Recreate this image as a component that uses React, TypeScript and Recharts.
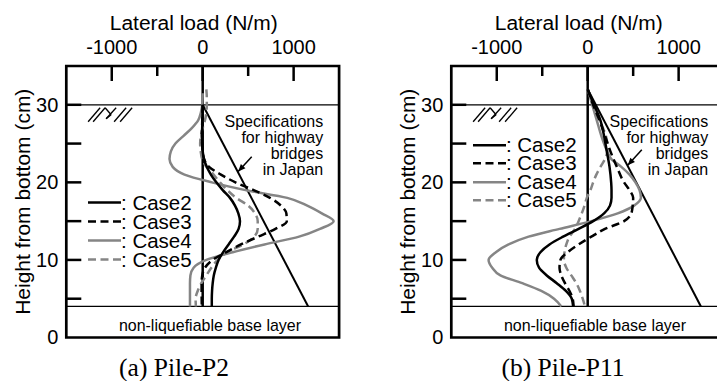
import React from 'react';
import {
  ComposedChart,
  Line,
  XAxis,
  YAxis,
  ReferenceLine,
  ReferenceArea,
  ReferenceDot,
  Legend,
} from 'recharts';

const SANS = '"Liberation Sans", Arial, Helvetica, sans-serif';
const SERIF = '"Liberation Serif", "Times New Roman", serif';

// ---------- axes / labels ----------
const xTicks = [-1000, -500, 0, 500, 1000];
const xLabeled = [-1000, 0, 1000];
const yTicks = [0, 5, 10, 15, 20, 25, 30];
const yRightTicks = [5, 10, 15, 20, 25, 30];
const yLabeled = [0, 10, 20, 30];
const xTitle = 'Lateral load (N/m)';
const yTitle = 'Height from bottom (cm)';
const specText = ['Specifications', 'for highway', 'bridges', 'in Japan'];
const baseText = 'non-liquefiable base layer';
const panelTitles = ['(a) Pile-P2', '(b) Pile-P11'];

// ---------- series ----------
const caseNames = ['Case2', 'Case3', 'Case4', 'Case5'];
const caseColors = ['#000000', '#000000', '#858585', '#858585'];
const caseDashes = ['', '8 4.5', '', '8 4.5'];

// Pile-P2 (h = height cm, v = lateral load N/m)
const p2Case2 = [
  { h: 30, v: 0 }, { h: 28, v: -3 }, { h: 26, v: -8 }, { h: 24, v: 0 }, { h: 23, v: 15 },
  { h: 22, v: 45 }, { h: 21, v: 90 }, { h: 20, v: 150 }, { h: 19, v: 220 }, { h: 18, v: 300 },
  { h: 17, v: 355 }, { h: 16, v: 392 }, { h: 15, v: 410 }, { h: 14, v: 395 }, { h: 13, v: 345 },
  { h: 12, v: 285 }, { h: 11, v: 225 }, { h: 10, v: 175 }, { h: 9, v: 145 }, { h: 8, v: 122 },
  { h: 7, v: 110 }, { h: 6, v: 103 }, { h: 5, v: 100 }, { h: 4, v: 100 },
];
const p2Case3 = [
  { h: 30, v: 0 }, { h: 28, v: -5 }, { h: 26, v: -8 }, { h: 24, v: 0 }, { h: 23, v: 15 },
  { h: 22, v: 70 }, { h: 21, v: 200 }, { h: 20, v: 360 }, { h: 19, v: 560 }, { h: 18, v: 740 },
  { h: 17, v: 860 }, { h: 16, v: 920 }, { h: 15, v: 925 }, { h: 14, v: 800 }, { h: 13, v: 610 },
  { h: 12, v: 420 }, { h: 11, v: 260 }, { h: 10, v: 110 }, { h: 9, v: 25 }, { h: 8, v: -5 },
  { h: 7, v: -12 }, { h: 6, v: -12 }, { h: 4, v: -10 },
];
const p2Case4 = [
  { h: 31.5, v: 0 }, { h: 30, v: -5 }, { h: 29, v: -20 }, { h: 28, v: -50 }, { h: 27, v: -120 },
  { h: 26, v: -210 }, { h: 25, v: -300 }, { h: 24, v: -350 }, { h: 23, v: -365 }, { h: 22, v: -330 },
  { h: 21, v: -200 }, { h: 20, v: 100 }, { h: 19, v: 470 }, { h: 18, v: 930 }, { h: 17, v: 1150 },
  { h: 16, v: 1310 }, { h: 15, v: 1440 }, { h: 14, v: 1290 }, { h: 13, v: 1060 }, { h: 12, v: 680 },
  { h: 11, v: 330 }, { h: 10, v: 40 }, { h: 9, v: -100 }, { h: 8, v: -135 }, { h: 7, v: -140 },
  { h: 6, v: -140 }, { h: 4, v: -140 },
];
const p2Case5 = [
  { h: 32, v: 40 }, { h: 31, v: 45 }, { h: 30, v: 45 }, { h: 28, v: 25 }, { h: 27, v: 0 },
  { h: 26, v: -20 }, { h: 25, v: -28 }, { h: 24, v: -22 }, { h: 23, v: -5 }, { h: 22, v: 40 },
  { h: 21, v: 120 }, { h: 20, v: 190 }, { h: 19, v: 270 }, { h: 18, v: 370 }, { h: 17, v: 500 },
  { h: 16, v: 575 }, { h: 15, v: 605 }, { h: 14, v: 605 }, { h: 13, v: 565 }, { h: 12, v: 450 },
  { h: 11, v: 270 }, { h: 10, v: 165 }, { h: 9, v: 95 }, { h: 8, v: 40 }, { h: 7, v: -15 },
  { h: 6, v: -55 }, { h: 5, v: -78 }, { h: 4, v: -75 },
];
const p2Spec = [{ h: 30, v: 0 }, { h: 4, v: 1160 }];

// Pile-P11
const p11Case2 = [
  { h: 32, v: 0 }, { h: 30, v: 70 }, { h: 28, v: 140 }, { h: 26, v: 180 }, { h: 24, v: 210 },
  { h: 22, v: 240 }, { h: 20, v: 258 }, { h: 19, v: 262 }, { h: 18, v: 262 }, { h: 17, v: 245 },
  { h: 16, v: 180 }, { h: 15, v: 60 }, { h: 14, v: -100 }, { h: 13, v: -270 }, { h: 12, v: -420 },
  { h: 11, v: -520 }, { h: 10, v: -560 }, { h: 9, v: -535 }, { h: 8, v: -450 }, { h: 7, v: -340 },
  { h: 6, v: -240 }, { h: 5, v: -175 }, { h: 4, v: -160 },
];
const p11Case3 = [
  { h: 32, v: 0 }, { h: 30, v: 60 }, { h: 28, v: 130 }, { h: 26, v: 190 }, { h: 24, v: 250 },
  { h: 22, v: 320 }, { h: 20, v: 400 }, { h: 19, v: 460 }, { h: 18, v: 500 }, { h: 17, v: 495 },
  { h: 16, v: 480 }, { h: 15, v: 400 }, { h: 14, v: 190 }, { h: 13, v: 40 }, { h: 12, v: -100 },
  { h: 11, v: -220 }, { h: 10, v: -300 }, { h: 9, v: -310 }, { h: 8, v: -290 }, { h: 7, v: -250 },
  { h: 6, v: -200 }, { h: 5, v: -165 }, { h: 4, v: -155 },
];
const p11Case4 = [
  { h: 32, v: 0 }, { h: 30, v: 50 }, { h: 28, v: 100 }, { h: 26, v: 150 }, { h: 24, v: 215 },
  { h: 23, v: 260 }, { h: 22, v: 370 }, { h: 21, v: 460 }, { h: 20, v: 525 }, { h: 19, v: 570 },
  { h: 18, v: 585 }, { h: 17, v: 510 }, { h: 16, v: 330 }, { h: 15, v: 40 }, { h: 14, v: -310 },
  { h: 13, v: -650 }, { h: 12, v: -870 }, { h: 11, v: -1010 }, { h: 10, v: -1090 }, { h: 9, v: -1050 },
  { h: 8, v: -960 }, { h: 7, v: -720 }, { h: 6, v: -510 }, { h: 5, v: -370 }, { h: 4, v: -290 },
];
const p11Case5 = [
  { h: 32, v: 0 }, { h: 30, v: 60 }, { h: 28, v: 130 }, { h: 26, v: 200 }, { h: 25, v: 215 },
  { h: 24, v: 215 }, { h: 23, v: 190 }, { h: 22, v: 140 }, { h: 21, v: 95 }, { h: 20, v: 60 },
  { h: 19, v: 30 }, { h: 18, v: -10 }, { h: 17, v: -35 }, { h: 16, v: -65 }, { h: 15, v: -100 },
  { h: 14, v: -140 }, { h: 13, v: -200 }, { h: 12, v: -235 }, { h: 11, v: -255 }, { h: 10, v: -262 },
  { h: 9, v: -235 }, { h: 8, v: -180 }, { h: 7, v: -125 }, { h: 6, v: -85 }, { h: 5, v: -55 },
  { h: 4, v: -30 },
];
const p11Spec = [{ h: 32, v: 0 }, { h: 4, v: 1245 }];

// ---------- annotation anchors (data coords) ----------
const p2Arrow = [539, 23.3, 390, 21.4];
const p11Arrow = [595, 24.2, 440, 22.2];

// ---------- custom pieces ----------
const TopTick = (p: any) => {
  const { x, y, payload } = p;
  const v = payload.value;
  const len = Math.abs(v) === 500 ? 10 : 15;
  return (
    <g>
      <line x1={x} y1={y} x2={x} y2={y + len} stroke="#000" strokeWidth={2.5} />
      {xLabeled.includes(v) && (
        <text x={x} y={y - 12} textAnchor="middle" fontFamily={SANS} fontSize={20} fill="#000">
          {String(v)}
        </text>
      )}
    </g>
  );
};

const LeftTick = (p: any) => {
  const { x, y, payload } = p;
  const v = payload.value;
  return (
    <g>
      {v > 0 && <line x1={x} y1={y} x2={x + 15} y2={y} stroke="#000" strokeWidth={2.5} />}
      {yLabeled.includes(v) && (
        <text x={x - 8} y={y + 7} textAnchor="end" fontFamily={SANS} fontSize={20} fill="#000">
          {String(v)}
        </text>
      )}
    </g>
  );
};

const RightTick = (p: any) => {
  const { x, y } = p;
  return <line x1={x} y1={y} x2={x - 15} y2={y} stroke="#000" strokeWidth={2.5} />;
};

const XTitle = (p: any) => {
  const vb = p.viewBox || { x: 0, width: 0 };
  return (
    <text x={vb.x + vb.width / 2 - 9} y={30} textAnchor="middle" fontFamily={SANS} fontSize={21} fill="#000">
      {xTitle}
    </text>
  );
};

const YTitle = (p: any) => {
  const vb = p.viewBox || { x: 0, y: 0, height: 0 };
  const cx = vb.x + 23;
  const cy = vb.y + vb.height / 2;
  return (
    <text
      x={cx}
      y={cy}
      transform={`rotate(-90 ${cx} ${cy})`}
      textAnchor="middle"
      dominantBaseline="central"
      fontFamily={SANS}
      fontSize={21}
      fill="#000"
    >
      {yTitle}
    </text>
  );
};

const Hatch = (p: any) => {
  const { cx, cy } = p;
  const b = cy + 17;
  const t = cy + 3;
  const seg = (a: number, c: number, d: number, e: number, k: number) => (
    <line key={k} x1={cx + a} y1={c} x2={cx + d} y2={e} stroke="#000" strokeWidth={1.3} />
  );
  return (
    <g>
      {seg(0, b, 12, t, 1)}
      {seg(5, b, 17, t, 2)}
      {seg(17, t, 23, cy + 10, 3)}
      {seg(18, cy + 14, 28, t, 4)}
      {seg(18, cy + 14, 23, cy + 10, 5)}
      {seg(26, b, 38, t, 6)}
      {seg(32, b, 44, t, 7)}
    </g>
  );
};

const SpecLabel = (p: any) => {
  const { cx, cy } = p;
  return (
    <g>
      {specText.map((s, i) => (
        <text key={s} x={cx} y={cy + 5.5 + i * 16} textAnchor="end" fontFamily={SANS} fontSize={16} fill="#000">
          {s}
        </text>
      ))}
    </g>
  );
};

const BaseLabel = (p: any) => {
  const { cx, cy } = p;
  return (
    <text x={cx} y={cy + 5.5} textAnchor="middle" fontFamily={SANS} fontSize={16} fill="#000">
      {baseText}
    </text>
  );
};

const Arrow = (p: any) => {
  const { x1, y1, x2, y2 } = p;
  if ([x1, y1, x2, y2].some((n) => typeof n !== 'number' || isNaN(n))) return null;
  const ang = Math.atan2(y2 - y1, x2 - x1);
  const L = 8;
  const a = 0.4;
  const ax = x2 - L * Math.cos(ang - a);
  const ay = y2 - L * Math.sin(ang - a);
  const bx = x2 - L * Math.cos(ang + a);
  const by = y2 - L * Math.sin(ang + a);
  return (
    <g>
      <line x1={x1} y1={y1} x2={x2} y2={y2} stroke="#000" strokeWidth={1.5} />
      <polygon points={`${x2},${y2} ${ax},${ay} ${bx},${by}`} fill="#000" />
    </g>
  );
};

const makeLegend = (rowH: number) => () => (
  <div style={{ fontFamily: SANS, fontSize: 20.5, color: '#000' }}>
    {caseNames.map((n, i) => (
      <div key={n} style={{ display: 'flex', alignItems: 'center', height: rowH, lineHeight: `${rowH}px` }}>
        <svg width={33} height={rowH} style={{ display: 'block' }}>
          <line
            x1={0}
            x2={33}
            y1={rowH / 2}
            y2={rowH / 2}
            stroke={caseColors[i]}
            strokeWidth={2.6}
            strokeDasharray={caseDashes[i] || undefined}
          />
        </svg>
        <span style={{ whiteSpace: 'pre' }}>{': ' + n}</span>
      </div>
    ))}
  </div>
);

type PanelProps = {
  series: { h: number; v: number }[][];
  spec: { h: number; v: number }[];
  arrow: number[];
  legendTop: number;
  rowH: number;
};

const drawOrder = [2, 3, 1, 0];

function Panel({ series, spec, arrow, legendTop, rowH }: PanelProps) {
  return (
    <ComposedChart
      width={350.1}
      height={381}
      layout="vertical"
      margin={{ top: 0, right: 10, bottom: 43.5, left: 0 }}
    >
      <XAxis
        type="number"
        orientation="top"
        domain={[-1500, 1500]}
        ticks={xTicks}
        interval={0}
        tick={TopTick}
        tickLine={false}
        axisLine={false}
        tickSize={0}
        tickMargin={0}
        height={66}
        allowDataOverflow
        label={XTitle}
      />
      <YAxis
        type="number"
        dataKey="h"
        domain={[0, 35]}
        ticks={yTicks}
        interval={0}
        reversed
        tick={LeftTick}
        tickLine={false}
        axisLine={false}
        tickSize={0}
        tickMargin={0}
        width={66.3}
        allowDataOverflow
        label={YTitle}
      />
      <YAxis
        yAxisId="r"
        type="number"
        orientation="right"
        domain={[0, 35]}
        ticks={yRightTicks}
        interval={0}
        reversed
        tick={RightTick}
        tickLine={false}
        axisLine={false}
        tickSize={0}
        tickMargin={0}
        width={1}
        allowDataOverflow
      />
      <ReferenceLine y={30} stroke="#000" strokeWidth={1.3} />
      <ReferenceLine y={4} stroke="#000" strokeWidth={1.3} />
      <ReferenceLine
        segment={[
          { x: 0, y: 4 },
          { x: 0, y: 35 },
        ]}
        stroke="#000"
        strokeWidth={2.5}
      />
      <ReferenceDot x={-1260} y={30} r={0} shape={Hatch} />
      <ReferenceDot x={1325} y={27.9} r={0} shape={SpecLabel} />
      <ReferenceDot x={80} y={1.6} r={0} shape={BaseLabel} />
      <ReferenceLine
        segment={[
          { x: arrow[0], y: arrow[1] },
          { x: arrow[2], y: arrow[3] },
        ]}
        shape={Arrow}
      />
      <Line
        data={spec}
        dataKey="v"
        type="linear"
        stroke="#000"
        strokeWidth={2}
        dot={false}
        activeDot={false}
        legendType="none"
        isAnimationActive={false}
      />
      {drawOrder.map((i) => (
        <Line
          key={caseNames[i]}
          data={series[i]}
          dataKey="v"
          name={caseNames[i]}
          type="monotone"
          stroke={caseColors[i]}
          strokeWidth={2.5}
          strokeDasharray={caseDashes[i] || undefined}
          dot={false}
          activeDot={false}
          isAnimationActive={false}
        />
      ))}
      <ReferenceArea
        x1={-1500}
        x2={1500}
        y1={0}
        y2={35}
        fill="none"
        fillOpacity={0}
        stroke="#000"
        strokeWidth={2.7}
        ifOverflow="visible"
      />
      <Legend
        layout="horizontal"
        verticalAlign="middle"
        align="center"
        wrapperStyle={{ left: 88, top: legendTop, width: 'auto', height: 'auto' }}
        content={makeLegend(rowH)}
      />
    </ComposedChart>
  );
}

export default function App() {
  return (
    <div
      style={{
        position: 'absolute',
        left: 0,
        top: 0,
        width: 717,
        height: 381,
        overflow: 'hidden',
        background: '#fff',
      }}
    >
      <div style={{ position: 'absolute', left: 0, top: 0 }}>
        <Panel series={[p2Case2, p2Case3, p2Case4, p2Case5]} spec={p2Spec} arrow={p2Arrow} legendTop={193.2} rowH={19} />
      </div>
      <div style={{ position: 'absolute', left: 384.9, top: 0 }}>
        <Panel series={[p11Case2, p11Case3, p11Case4, p11Case5]} spec={p11Spec} arrow={p11Arrow} legendTop={135.7} rowH={18.6} />
      </div>
      <svg width={717} height={381} style={{ position: 'absolute', left: 0, top: 0, pointerEvents: 'none' }}>
        <text x={174} y={376} textAnchor="middle" fontFamily={SERIF} fontSize={25.5} fill="#000">
          {panelTitles[0]}
        </text>
        <text x={563} y={376} textAnchor="middle" fontFamily={SERIF} fontSize={25.5} fill="#000">
          {panelTitles[1]}
        </text>
      </svg>
    </div>
  );
}
